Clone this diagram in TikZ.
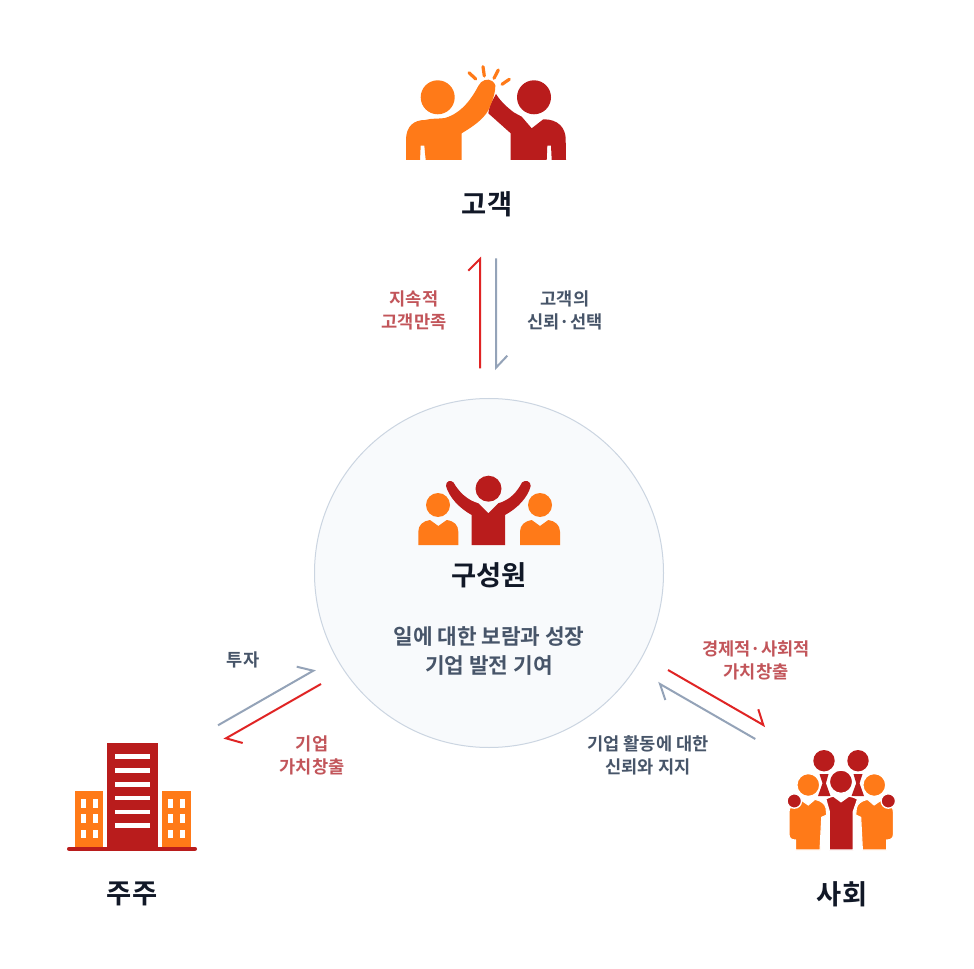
\documentclass[tikz,border=0pt]{standalone}
\usepackage{fontspec}
\setmainfont{Noto Sans CJK KR}[BoldFont={Noto Sans CJK KR Bold}]
\definecolor{ior}{HTML}{FF7A18}
\definecolor{ird}{HTML}{B91C1C}
\definecolor{arrd}{HTML}{E02424}
\definecolor{argy}{HTML}{94A3B8}
\definecolor{ttl}{HTML}{111827}
\definecolor{lbg}{HTML}{475569}
\definecolor{lbr}{HTML}{C2555A}
\definecolor{cfill}{HTML}{F8FAFC}
\definecolor{cline}{HTML}{CBD5E1}
\tikzset{
  title/.style={font=\bfseries\fontsize{20.5}{24}\selectfont,text=ttl,inner sep=0pt,align=center},
  body/.style={font=\bfseries\fontsize{16}{21.75}\selectfont,text=lbg,inner sep=0pt,align=center},
  lgrey/.style={font=\bfseries\fontsize{13.2}{17.25}\selectfont,text=lbg,inner sep=0pt,align=center},
  lred/.style={font=\bfseries\fontsize{13.2}{17.25}\selectfont,text=lbr,inner sep=0pt,align=center},
  redarrow/.style={draw=arrd,line width=1.5pt,line join=miter},
  greyarrow/.style={draw=argy,line width=1.5pt,line join=miter},
  spark/.style={draw=ior,line width=2.4pt,line cap=round},
}
\begin{document}
\begin{tikzpicture}[x=0.75pt,y=-0.75pt]
\useasboundingbox (0,0) rectangle (974,969);
\fill[white] (0,0) rectangle (974,969);
% centre circle
\node[circle,draw=cline,fill=cfill,line width=0.75pt,minimum size=261.75pt,inner sep=0pt] (core) at (489,573) {};

% high five icon
\fill[ior] (437.7,97.3) circle (17);
\fill[ird] (534,97.3) circle (17);
\fill[ird] (496,94) .. controls (501,102) and (508,108) .. (514,112.5) -- (521.7,116.7) -- (531.7,128.3) -- (543.3,119.3)
  .. controls (558,119) and (566,128) .. (565.7,140) -- (566,160) -- (551.7,160) -- (551,145.7) -- (547.3,145.7) -- (546.7,160)
  -- (510.7,160) -- (510.7,133.3) -- (488.3,113.3) -- (490,105) -- cycle;
\fill[ior] (406,160) -- (406,140) .. controls (406,126) and (414,120) .. (425,120)
  .. controls (432,118) and (440,119) .. (445,118) .. controls (462,113) and (472,98) .. (478.3,86)
  .. controls (481,80) and (488,78) .. (492,81) .. controls (496,84) and (496,87) .. (495,90)
  .. controls (494,98) and (491,104) .. (488.5,110) .. controls (483,120) and (472,127) .. (461.7,133.3) -- (461.7,160) -- (425.7,160) -- (424.3,145.7) -- (420.7,145.7) -- (420,160) -- cycle;
\coordinate (s1a) at (469,72.7); \coordinate (s1b) at (475.7,79);
\coordinate (s2a) at (483,66.7); \coordinate (s2b) at (484.3,76);
\coordinate (s3a) at (498.3,70); \coordinate (s3b) at (494,78.3);
\coordinate (s4a) at (509.3,79.3); \coordinate (s4b) at (502,84.3);
\draw[spark] (s1a) -- (s1b);
\draw[spark] (s2a) -- (s2b);
\draw[spark] (s3a) -- (s3b);
\draw[spark] (s4a) -- (s4b);

% crew icon
\fill[ird] (488.5,488.7) circle (13);
\fill[ior] (438,505) circle (12);
\fill[ior] (540,505) circle (12);
\fill[ior] (418.3,545) -- (418.3,531.7) .. controls (418.3,525) and (423,521) .. (430,520) -- (438.3,526) -- (446.7,520)
  .. controls (454,521) and (458.3,525) .. (458.3,531.7) -- (458.3,545) -- cycle;
\fill[ior] (520,545) -- (520,531.7) .. controls (520,525) and (525,521) .. (531.7,520) -- (540,526) -- (548.3,520)
  .. controls (555,521) and (560,525) .. (560,531.7) -- (560,545) -- cycle;
\fill[ird] (446,486) .. controls (445.5,481) and (451,479.5) .. (453.5,482.5) .. controls (459,492) and (467,500) .. (478.3,503.3)
  -- (488.3,513.3) -- (498.3,503.3) .. controls (510,500) and (517,492) .. (522,482.5)
  .. controls (525,479.5) and (531,481) .. (530.7,486) .. controls (528,497) and (518,508) .. (505,515)
  -- (505,545) -- (471.7,545) -- (471.7,515) .. controls (459,508) and (449,497) .. cycle;

% building icon
\fill[ird] (107.3,743.3) rectangle (157.7,848);
\fill[ior] (75,791) rectangle (103.3,847);
\fill[ior] (162.3,791) rectangle (190.7,847);
\foreach \yy in {754,768,782,795.7,809.7,823.4}{\fill[white] (115,\yy) rectangle ++(35,4.6);}
\foreach \xx in {81.3,93,168.3,180}{\foreach \yy in {799,814,829.7}{\fill[white] (\xx,\yy) rectangle ++(4.7,8.7);}}
\coordinate (basea) at (69,848.7); \coordinate (baseb) at (195,848.7);
\draw[ird,line width=3pt,line cap=round] (basea) -- (baseb);

% society icon
\fill[ird] (824,760.7) circle (10.7);
\fill[ird] (858,760.7) circle (10.7);
\fill[ird] (819.5,774) -- (828.5,774) -- (825.9,783.3) -- (830.5,796) -- (818,796) -- (822.5,783.3) -- cycle;
\fill[ird] (853.5,774) -- (862.5,774) -- (859.5,783.3) -- (864,796) -- (851.5,796) -- (856.2,783.3) -- cycle;
\fill[ird,draw=white,line width=1.2pt] (841,781.7) circle (11.8);
\fill[ird,draw=white,line width=1pt] (825.7,799) .. controls (828,797.5) and (831,796.5) .. (833.3,796) -- (841,801.7) -- (849,796) .. controls (852,796.5) and (855,797.5) .. (857.7,799) -- (853.3,811.7) -- (853.3,850) -- (829.3,850) -- (829.3,811.7) -- cycle;
\fill[ior,draw=white,line width=0.8pt] (789,812) .. controls (789,807) and (792,805) .. (797,804) -- (800,799.3) -- (808.3,805) -- (815,799.3) .. controls (822,801) and (825,804) .. (826,808)
  -- (826.7,815) -- (821.7,817.3) -- (820,850) -- (795.7,850) -- (795.7,840) .. controls (791,840) and (789,838) .. (789,834) -- cycle;
\fill[ior,draw=white,line width=0.8pt] (893.4,812) .. controls (893.4,807) and (890.4,805) .. (885.4,804) -- (882.4,799.3) -- (874.1,805) -- (867.4,799.3) .. controls (860.4,801) and (857.4,804) .. (856.4,808)
  -- (855.7,815) -- (860.7,817.3) -- (862.4,850) -- (886.7,850) -- (886.7,840) .. controls (891.4,840) and (893.4,838) .. (893.4,834) -- cycle;
\fill[ird,draw=white,line width=1pt] (794.3,801) circle (7.2);
\fill[ird,draw=white,line width=1pt] (888.3,801) circle (7.2);
\fill[ior,draw=white,line width=1.2pt] (808.3,785) circle (11.6);
\fill[ior,draw=white,line width=1.2pt] (874.3,785) circle (11.6);

% arrows
\coordinate (a1s) at (480,368.3); \coordinate (a1e) at (480,259); \coordinate (a1h) at (468.3,270.7);
\coordinate (a2s) at (496,258.3); \coordinate (a2e) at (496,367.7); \coordinate (a2h) at (507.3,355.7);
\coordinate (a3s) at (668,670); \coordinate (a3e) at (763.3,725); \coordinate (a3h) at (758.3,709.3);
\coordinate (a4s) at (755.3,739); \coordinate (a4e) at (660,684); \coordinate (a4h) at (665.3,700);
\coordinate (a5s) at (218,725.3); \coordinate (a5e) at (313.3,670.7); \coordinate (a5h) at (296.7,666.7);
\coordinate (a6s) at (321,684); \coordinate (a6e) at (226,738.3); \coordinate (a6h) at (242.7,743);
\draw[redarrow] (a1s) -- (a1e) -- (a1h);
\draw[greyarrow] (a2s) -- (a2e) -- (a2h);
\draw[redarrow] (a3s) -- (a3e) -- (a3h);
\draw[greyarrow] (a4s) -- (a4e) -- (a4h);
\draw[greyarrow] (a5s) -- (a5e) -- (a5h);
\draw[redarrow] (a6s) -- (a6e) -- (a6h);

% text
\node[title] (t1) at (487,204) {고객};
\node[title] (t2) at (489,575) {구성원};
\node[title] (t3) at (132,894) {주주};
\node[title] (t4) at (842,894) {사회};
\node[body] (b1) at (489,651) {일에 대한 보람과 성장\\기업 발전 기여};
\node[lred] (l1) at (414,310) {지속적\\고객만족};
\node[lgrey] (l2) at (565,310) {고객의\\신뢰·선택};
\node[lgrey] (l3) at (243,659.5) {투자};
\node[lred] (l4) at (312,755) {기업\\가치창출};
\node[lred] (l5) at (756,660.5) {경제적·사회적\\가치창출};
\node[lgrey] (l6) at (648,755) {기업 활동에 대한\\신뢰와 지지};
\end{tikzpicture}
\end{document}
